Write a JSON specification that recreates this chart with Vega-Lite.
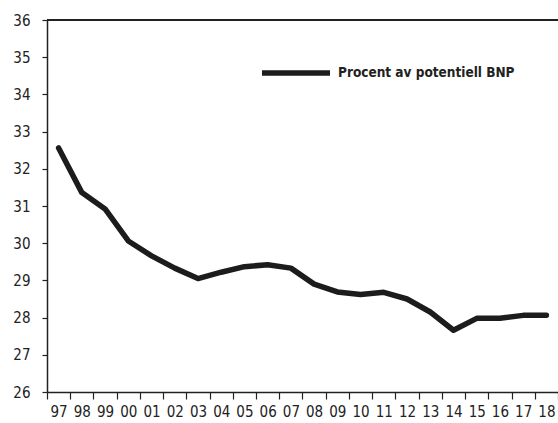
{
  "$schema": "https://vega.github.io/schema/vega-lite/v6.json",
  "width": 511,
  "height": 372,
  "autosize": {"type": "none"},
  "padding": {"left": 47, "top": 20, "right": 0, "bottom": 31},
  "background": "white",
  "config": {
    "view": {"stroke": null},
    "font": "DejaVu Sans Condensed, sans-serif",
    "axis": {"labelFont": "DejaVu Sans Condensed, sans-serif", "labelFontSize": 15, "labelColor": "#222", "domainColor": "#222", "tickColor": "#222", "grid": false, "title": null, "labelOverlap": false}
  },
  "data": {
    "values": [
      {"year": "97", "value": 32.56, "serie": "Procent av potentiell BNP"},
      {"year": "98", "value": 31.36, "serie": "Procent av potentiell BNP"},
      {"year": "99", "value": 30.92, "serie": "Procent av potentiell BNP"},
      {"year": "00", "value": 30.06, "serie": "Procent av potentiell BNP"},
      {"year": "01", "value": 29.66, "serie": "Procent av potentiell BNP"},
      {"year": "02", "value": 29.33, "serie": "Procent av potentiell BNP"},
      {"year": "03", "value": 29.05, "serie": "Procent av potentiell BNP"},
      {"year": "04", "value": 29.22, "serie": "Procent av potentiell BNP"},
      {"year": "05", "value": 29.37, "serie": "Procent av potentiell BNP"},
      {"year": "06", "value": 29.42, "serie": "Procent av potentiell BNP"},
      {"year": "07", "value": 29.33, "serie": "Procent av potentiell BNP"},
      {"year": "08", "value": 28.9, "serie": "Procent av potentiell BNP"},
      {"year": "09", "value": 28.69, "serie": "Procent av potentiell BNP"},
      {"year": "10", "value": 28.62, "serie": "Procent av potentiell BNP"},
      {"year": "11", "value": 28.68, "serie": "Procent av potentiell BNP"},
      {"year": "12", "value": 28.5, "serie": "Procent av potentiell BNP"},
      {"year": "13", "value": 28.15, "serie": "Procent av potentiell BNP"},
      {"year": "14", "value": 27.66, "serie": "Procent av potentiell BNP"},
      {"year": "15", "value": 27.98, "serie": "Procent av potentiell BNP"},
      {"year": "16", "value": 27.98, "serie": "Procent av potentiell BNP"},
      {"year": "17", "value": 28.06, "serie": "Procent av potentiell BNP"},
      {"year": "18", "value": 28.06, "serie": "Procent av potentiell BNP"}
    ]
  },
  "layer": [
    {
      "mark": {"type": "line", "strokeWidth": 5.5, "strokeJoin": "round", "strokeCap": "round"},
      "encoding": {
        "x": {"field": "year", "type": "ordinal", "sort": null,
              "scale": {"type": "band", "paddingInner": 0, "paddingOuter": 0},
              "axis": {"labelAngle": 0, "tickBand": "extent", "tickSize": 7, "labelPadding": 5, "domainWidth": 1.5, "tickWidth": 1.2}},
        "y": {"field": "value", "type": "quantitative",
              "scale": {"domain": [26, 36], "nice": false, "zero": false},
              "axis": {"values": [26, 27, 28, 29, 30, 31, 32, 33, 34, 35, 36], "tickSize": 5, "labelPadding": 12, "domainWidth": 1.5, "tickWidth": 1.2, "labelBaseline": "middle"}},
        "color": {"field": "serie", "type": "nominal",
                  "scale": {"range": ["#1c1c1c"]},
                  "legend": {"title": null, "orient": "none", "legendX": 212, "legendY": 16, "padding": 0,
                             "symbolType": "stroke", "symbolSize": 4624, "symbolStrokeWidth": 5.5,
                             "labelFontSize": 13.5, "labelFontWeight": "bold", "labelColor": "#222", "labelOffset": 5, "labelLimit": 400,
                             "labelFont": "DejaVu Sans Condensed, sans-serif"}}
      }
    },
    {
      "mark": {"type": "rule", "color": "#222", "strokeWidth": 1.5},
      "encoding": {"y": {"datum": 36, "type": "quantitative",
                         "axis": {"values": [26, 27, 28, 29, 30, 31, 32, 33, 34, 35, 36], "tickSize": 5, "labelPadding": 12, "domainWidth": 1.5, "tickWidth": 1.2, "labelBaseline": "middle"}}}
    }
  ]
}
